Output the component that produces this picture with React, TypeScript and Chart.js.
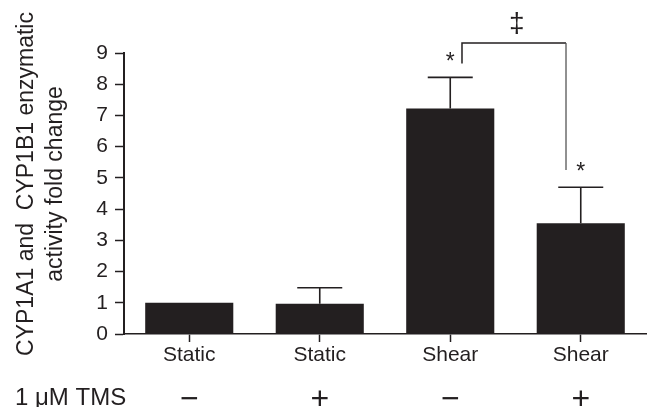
import React, { useEffect, useRef } from 'react';
import { Chart, registerables } from 'chart.js';

Chart.register(...registerables);

// ---- data ----
const categories = ['Static', 'Static', 'Shear', 'Shear'];
const foldChange = [1.0, 0.97, 7.22, 3.55];
const errorUpper = [0, 0.51, 1.0, 1.15];
const tmsSigns = ['−', '+', '−', '+'];
const tmsRowLabel = '1 μM TMS';
const yTitleLines = ['CYP1A1 and  CYP1B1 enzymatic', 'activity fold change'];
const yMin = 0;
const yMax = 9;
const yStep = 1;
// significance marks: category index (fractional) and value where drawn
const starMarks = [
  { index: 2.0, value: 8.9 },
  { index: 3.0, value: 5.38 },
];
const bracket = { from: 2.09, to: 2.887, top: 9.32, leftEnd: 8.66, rightEnd: 5.25 };
const dagger = { text: '‡', index: 2.51, value: 9.93 };

const INK = '#231f20';
const FONT = "'Liberation Sans', Arial, Helvetica, sans-serif";

const annotations = {
  id: 'annotations',
  afterDatasetsDraw(chart: any) {
    const { ctx, scales } = chart;
    const xs = scales.x;
    const ys = scales.y;
    ctx.save();
    ctx.strokeStyle = INK;
    ctx.lineWidth = 1.6;
    foldChange.forEach((v, i) => {
      const e = errorUpper[i];
      if (!e) return;
      const x = xs.getPixelForValue(i);
      const y0 = ys.getPixelForValue(v);
      const y1 = ys.getPixelForValue(v + e);
      ctx.beginPath();
      ctx.moveTo(x, y0);
      ctx.lineTo(x, y1);
      ctx.moveTo(x - 22.5, y1);
      ctx.lineTo(x + 22.5, y1);
      ctx.stroke();
    });
    ctx.restore();
  },
  afterDraw(chart: any) {
    const { ctx, scales } = chart;
    const xs = scales.x;
    const ys = scales.y;
    ctx.save();
    ctx.fillStyle = INK;
    ctx.strokeStyle = INK;

    // bracket
    ctx.lineWidth = 1.5;
    const bx0 = xs.getPixelForValue(bracket.from);
    const bx1 = xs.getPixelForValue(bracket.to);
    const byTop = ys.getPixelForValue(bracket.top);
    ctx.beginPath();
    ctx.moveTo(bx0, ys.getPixelForValue(bracket.leftEnd));
    ctx.lineTo(bx0, byTop);
    ctx.lineTo(bx1, byTop);
    ctx.stroke();
    ctx.strokeStyle = '#555';
    ctx.lineWidth = 1.3;
    ctx.beginPath();
    ctx.moveTo(bx1, byTop);
    ctx.lineTo(bx1, ys.getPixelForValue(bracket.rightEnd));
    ctx.stroke();

    // stars
    ctx.textAlign = 'center';
    ctx.textBaseline = 'alphabetic';
    const starSize = 23;
    ctx.font = `${starSize}px ${FONT}`;
    starMarks.forEach((s) => {
      const x = xs.getPixelForValue(s.index);
      const y = ys.getPixelForValue(s.value);
      ctx.fillText('*', x, y + 0.575 * starSize);
    });

    // dagger
    const dSize = 28;
    ctx.font = `${dSize}px ${FONT}`;
    ctx.fillText(dagger.text, xs.getPixelForValue(dagger.index), ys.getPixelForValue(dagger.value) + 0.27 * dSize);

    // y title (two rotated lines)
    const tSize = 23;
    ctx.font = `${tSize}px ${FONT}`;
    const cy = 184;
    const baselines = [33, 62];
    yTitleLines.forEach((line, i) => {
      ctx.save();
      ctx.translate(baselines[i], cy);
      ctx.rotate(-Math.PI / 2);
      ctx.textAlign = 'center';
      ctx.fillText(line, 0, 0);
      ctx.restore();
    });

    // bottom row: treatment
    ctx.font = `24px ${FONT}`;
    ctx.textAlign = 'left';
    ctx.fillText(tmsRowLabel, 15, 405);
    const sSize = 32;
    ctx.font = `${sSize}px ${FONT}`;
    ctx.textAlign = 'center';
    tmsSigns.forEach((s, i) => {
      ctx.fillText(s, xs.getPixelForValue(i), 397.5 + 0.35 * sSize);
    });
    ctx.restore();
  },
};

export default function App() {
  const ref = useRef<HTMLCanvasElement>(null);
  useEffect(() => {
    if (!ref.current) return;
    const chart = new Chart(ref.current, {
      type: 'bar',
      data: {
        labels: categories,
        datasets: [
          {
            data: foldChange,
            backgroundColor: INK,
            borderWidth: 0,
            barPercentage: 0.675,
            categoryPercentage: 1,
          },
        ],
      },
      options: {
        responsive: false,
        animation: false,
        layout: { padding: { left: 0, right: 3, top: 53, bottom: 0 } },
        plugins: {
          legend: { display: false },
          tooltip: { enabled: false },
          title: { display: false },
        },
        scales: {
          x: {
            offset: true,
            grid: {
              offset: false,
              drawOnChartArea: false,
              drawTicks: true,
              tickLength: 8,
              tickWidth: 1.5,
              tickColor: INK,
              color: INK,
            },
            border: { display: true, color: INK, width: 1.6 },
            ticks: {
              color: INK,
              font: { family: FONT, size: 21 },
              padding: 1,
              maxRotation: 0,
            },
            afterFit: (s: any) => {
              s.height = 73;
            },
          },
          y: {
            min: yMin,
            max: yMax,
            grid: {
              drawOnChartArea: false,
              drawTicks: true,
              tickLength: 9,
              tickWidth: 1.5,
              tickColor: INK,
              color: INK,
            },
            border: { display: true, color: INK, width: 2 },
            ticks: {
              stepSize: yStep,
              color: INK,
              font: { family: FONT, size: 21 },
              padding: 7,
            },
            afterFit: (s: any) => {
              s.width = 124;
            },
          },
        },
      },
      plugins: [annotations],
    });
    return () => chart.destroy();
  }, []);
  return (
    <div style={{ position: 'absolute', left: 0, top: 0, width: 649, height: 407, background: '#fff' }}>
      <canvas ref={ref} width={649} height={407} style={{ display: 'block' }} />
    </div>
  );
}
